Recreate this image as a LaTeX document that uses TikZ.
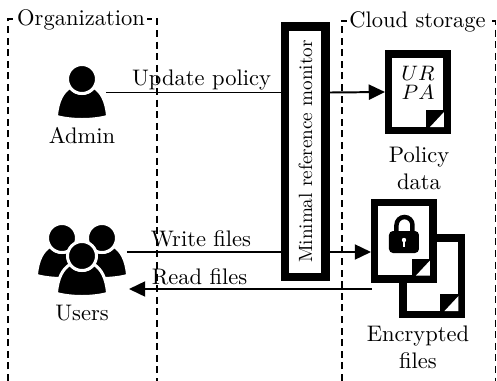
\documentclass[tikz,border=0pt]{standalone}
\usepackage{amsmath}
\usetikzlibrary{arrows.meta}
\def\u{0.431pt}
\tikzset{
  frameline/.style={dash pattern=on 3pt off 2pt, line width=0.6pt},
  frametitle/.style={fill=white, inner xsep=1pt, inner ysep=1pt, anchor=base},
  docbox/.style={draw, fill=white, line width=7.5*\u, minimum width=58.5*\u, minimum height=76.5*\u, inner sep=0pt},
  link/.style={line width=0.85pt},
  linklabel/.style={anchor=base, inner sep=0pt},
  >={Triangle[length=7pt,width=6.5pt]},
  person/.pic={
    \path[fill=black, draw=white, line width=3*\u] (-25.5,37.5) .. controls (-24.5,22) and (-19,12.5) .. (-12,8.5)
      .. controls (-6,16.5) and (6,16.5) .. (12,8.5) .. controls (19,12.5) and (24.5,22) .. (25.5,37.5)
      .. controls (10,41.5) and (-10,41.5) .. cycle;
    \path[fill=black, draw=white, line width=3*\u] (0,0) circle (14.5*\u);
  }
}
\newcommand{\docfold}[1]{
  \fill (#1.south east)++(-25,-24) rectangle ++(18,17);
  \fill[white] (#1.south east)++(-7,-22)--++(0,15)--++(-14,0)--cycle;
}
\begin{document}
\begin{tikzpicture}[x=\u,y=-\u,font=\fontsize{9.7}{11.7}\selectfont]
  \useasboundingbox (0,0) rectangle (497,381);
  % frames
  \draw[frameline] (8,381)--(8,19)--(157,19)--(157,381);
  \draw[frameline] (342,381)--(342,21)--(495.5,21)--(495.5,381);
  \node[frametitle] (org) at (81,25) {Organization};
  \node[frametitle] (cloud) at (417.5,27) {Cloud storage};
  % people
  \node[minimum width=48*\u, minimum height=53*\u, inner sep=0pt] (admin) at (82,92.5) {};
  \node[minimum width=88*\u, minimum height=70*\u, inner sep=0pt] (users) at (82,259) {};
  \pic at (82,79) {person};
  \pic at (62,238) {person};
  \pic at (102,238) {person};
  \pic at (82,256) {person};
  \node[linklabel] (adminlabel) at (82,143) {Admin};
  \node[linklabel] (userslabel) at (82,320) {Users};
  % monitor
  \node[draw, rotate=90, line width=8.5*\u, minimum width=250.5*\u, minimum height=40.5*\u, inner sep=0pt, font=\normalsize] (monitor) at (305.5,151.5) {\resizebox{96pt}{!}{Minimal reference monitor}};
  % documents
  \node[docbox] (policy) at (418,92) {};
  \node[font=\small, inner sep=0pt] (ur) at (418,73) {$UR$};
  \node[font=\small, inner sep=0pt] (pa) at (418,92) {$PA$};
  \docfold{policy}
  \node[docbox] (encback) at (432.5,276) {};
  \docfold{encback}
  \node[docbox] (encfront) at (404,240.5) {};
  \docfold{encfront}
  % lock
  \draw[line width=4.5*\u] (396.5,233)--(396.5,225) arc (180:360:8 and 8)--(412.5,233);
  \fill[rounded corners=4*\u] (389,231) rectangle (419,253);
  \fill[white] (404,240) circle (2.2*\u);
  \fill[white] (403,240) rectangle (405,247);
  \node[align=center, inner sep=0pt] (policylabel) at (419,168) {Policy\\data};
  \node[align=center, inner sep=0pt] (enclabel) at (418,347) {Encrypted\\files};
  % connectors
  \coordinate (wf) at (127,252);
  \coordinate (rf) at (372,289);
  \coordinate (rfend) at (129,289);
  \draw[link] (admin.east)--(admin.east -| monitor.north);
  \draw[link,->] (monitor.south |- admin.east)--(policy.west);
  \draw[link] (wf)--(wf -| monitor.north);
  \draw[link,->] (monitor.south |- wf)--(wf -| encfront.west);
  \draw[link,->] (rf)--(rfend);
  \node[linklabel] (uplabel) at (201.5,85) {Update policy};
  \node[linklabel] (wflabel) at (201,246.5) {Write files};
  \node[linklabel] (rflabel) at (199.5,284) {Read files};
\end{tikzpicture}
\end{document}
